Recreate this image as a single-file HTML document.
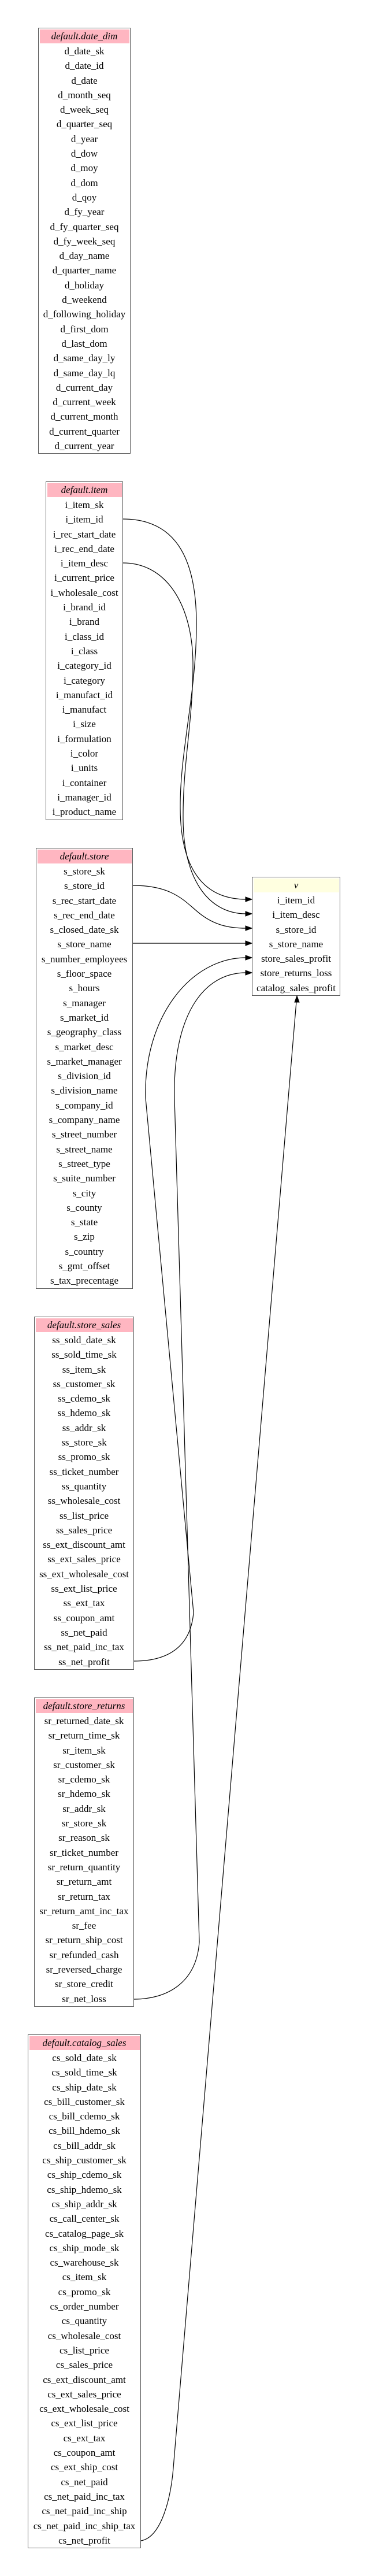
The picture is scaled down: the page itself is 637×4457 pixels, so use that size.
<!DOCTYPE html>
<html><head><meta charset="utf-8">
<style>
html,body{margin:0;padding:0;background:#fff;}
body{width:637px;height:4457px;position:relative;overflow:hidden;font-family:"Liberation Serif",serif;font-size:17px;color:#000;}
.t{position:absolute;box-sizing:border-box;border:1.5px solid #555;background:#fff;}
.h{margin:1.5px;height:24px;line-height:24px;background:#ffb6c1;text-align:center;font-style:italic;}
.h.v{background:#ffffe0;}
.r{height:25.3px;line-height:25.3px;text-align:center;white-space:nowrap;}
svg{position:absolute;left:0;top:0;}
</style></head><body>

<div class="t" style="left:66px;top:48px;width:160px;height:737px;">
<div class="h">default.date_dim</div>
<div class="r">d_date_sk</div><div class="r">d_date_id</div><div class="r">d_date</div><div class="r">d_month_seq</div><div class="r">d_week_seq</div><div class="r">d_quarter_seq</div><div class="r">d_year</div><div class="r">d_dow</div><div class="r">d_moy</div><div class="r">d_dom</div><div class="r">d_qoy</div><div class="r">d_fy_year</div><div class="r">d_fy_quarter_seq</div><div class="r">d_fy_week_seq</div><div class="r">d_day_name</div><div class="r">d_quarter_name</div><div class="r">d_holiday</div><div class="r">d_weekend</div><div class="r">d_following_holiday</div><div class="r">d_first_dom</div><div class="r">d_last_dom</div><div class="r">d_same_day_ly</div><div class="r">d_same_day_lq</div><div class="r">d_current_day</div><div class="r">d_current_week</div><div class="r">d_current_month</div><div class="r">d_current_quarter</div><div class="r">d_current_year</div>
</div>

<div class="t" style="left:79px;top:833px;width:134px;height:586px;">
<div class="h">default.item</div>
<div class="r">i_item_sk</div><div class="r">i_item_id</div><div class="r">i_rec_start_date</div><div class="r">i_rec_end_date</div><div class="r">i_item_desc</div><div class="r">i_current_price</div><div class="r">i_wholesale_cost</div><div class="r">i_brand_id</div><div class="r">i_brand</div><div class="r">i_class_id</div><div class="r">i_class</div><div class="r">i_category_id</div><div class="r">i_category</div><div class="r">i_manufact_id</div><div class="r">i_manufact</div><div class="r">i_size</div><div class="r">i_formulation</div><div class="r">i_color</div><div class="r">i_units</div><div class="r">i_container</div><div class="r">i_manager_id</div><div class="r">i_product_name</div>
</div>

<div class="t" style="left:62px;top:1467px;width:168px;height:763px;">
<div class="h">default.store</div>
<div class="r">s_store_sk</div><div class="r">s_store_id</div><div class="r">s_rec_start_date</div><div class="r">s_rec_end_date</div><div class="r">s_closed_date_sk</div><div class="r">s_store_name</div><div class="r">s_number_employees</div><div class="r">s_floor_space</div><div class="r">s_hours</div><div class="r">s_manager</div><div class="r">s_market_id</div><div class="r">s_geography_class</div><div class="r">s_market_desc</div><div class="r">s_market_manager</div><div class="r">s_division_id</div><div class="r">s_division_name</div><div class="r">s_company_id</div><div class="r">s_company_name</div><div class="r">s_street_number</div><div class="r">s_street_name</div><div class="r">s_street_type</div><div class="r">s_suite_number</div><div class="r">s_city</div><div class="r">s_county</div><div class="r">s_state</div><div class="r">s_zip</div><div class="r">s_country</div><div class="r">s_gmt_offset</div><div class="r">s_tax_precentage</div>
</div>

<div class="t" style="left:59px;top:2278px;width:173px;height:611px;">
<div class="h">default.store_sales</div>
<div class="r">ss_sold_date_sk</div><div class="r">ss_sold_time_sk</div><div class="r">ss_item_sk</div><div class="r">ss_customer_sk</div><div class="r">ss_cdemo_sk</div><div class="r">ss_hdemo_sk</div><div class="r">ss_addr_sk</div><div class="r">ss_store_sk</div><div class="r">ss_promo_sk</div><div class="r">ss_ticket_number</div><div class="r">ss_quantity</div><div class="r">ss_wholesale_cost</div><div class="r">ss_list_price</div><div class="r">ss_sales_price</div><div class="r">ss_ext_discount_amt</div><div class="r">ss_ext_sales_price</div><div class="r">ss_ext_wholesale_cost</div><div class="r">ss_ext_list_price</div><div class="r">ss_ext_tax</div><div class="r">ss_coupon_amt</div><div class="r">ss_net_paid</div><div class="r">ss_net_paid_inc_tax</div><div class="r">ss_net_profit</div>
</div>

<div class="t" style="left:59px;top:2937px;width:173px;height:535px;">
<div class="h">default.store_returns</div>
<div class="r">sr_returned_date_sk</div><div class="r">sr_return_time_sk</div><div class="r">sr_item_sk</div><div class="r">sr_customer_sk</div><div class="r">sr_cdemo_sk</div><div class="r">sr_hdemo_sk</div><div class="r">sr_addr_sk</div><div class="r">sr_store_sk</div><div class="r">sr_reason_sk</div><div class="r">sr_ticket_number</div><div class="r">sr_return_quantity</div><div class="r">sr_return_amt</div><div class="r">sr_return_tax</div><div class="r">sr_return_amt_inc_tax</div><div class="r">sr_fee</div><div class="r">sr_return_ship_cost</div><div class="r">sr_refunded_cash</div><div class="r">sr_reversed_charge</div><div class="r">sr_store_credit</div><div class="r">sr_net_loss</div>
</div>

<div class="t" style="left:48px;top:3520px;width:196px;height:889px;">
<div class="h">default.catalog_sales</div>
<div class="r">cs_sold_date_sk</div><div class="r">cs_sold_time_sk</div><div class="r">cs_ship_date_sk</div><div class="r">cs_bill_customer_sk</div><div class="r">cs_bill_cdemo_sk</div><div class="r">cs_bill_hdemo_sk</div><div class="r">cs_bill_addr_sk</div><div class="r">cs_ship_customer_sk</div><div class="r">cs_ship_cdemo_sk</div><div class="r">cs_ship_hdemo_sk</div><div class="r">cs_ship_addr_sk</div><div class="r">cs_call_center_sk</div><div class="r">cs_catalog_page_sk</div><div class="r">cs_ship_mode_sk</div><div class="r">cs_warehouse_sk</div><div class="r">cs_item_sk</div><div class="r">cs_promo_sk</div><div class="r">cs_order_number</div><div class="r">cs_quantity</div><div class="r">cs_wholesale_cost</div><div class="r">cs_list_price</div><div class="r">cs_sales_price</div><div class="r">cs_ext_discount_amt</div><div class="r">cs_ext_sales_price</div><div class="r">cs_ext_wholesale_cost</div><div class="r">cs_ext_list_price</div><div class="r">cs_ext_tax</div><div class="r">cs_coupon_amt</div><div class="r">cs_ext_ship_cost</div><div class="r">cs_net_paid</div><div class="r">cs_net_paid_inc_tax</div><div class="r">cs_net_paid_inc_ship</div><div class="r">cs_net_paid_inc_ship_tax</div><div class="r">cs_net_profit</div>
</div>

<div class="t" style="left:436px;top:1517px;width:153px;height:206px;">
<div class="h v">v</div>
<div class="r">i_item_id</div><div class="r">i_item_desc</div><div class="r">s_store_id</div><div class="r">s_store_name</div><div class="r">store_sales_profit</div><div class="r">store_returns_loss</div><div class="r">catalog_sales_profit</div>
</div>

<svg width="637" height="4457" viewBox="0 0 637 4457">
<g fill="none" stroke="#000" stroke-width="1.2">
<path d="M213,898 C300,898 340,960 340,1080 C340,1200 311,1300 312,1400 C313,1500 350,1556 426,1556"/>
<path d="M213,974 C290,974 334,1050 334,1150 C334,1250 316,1320 317,1420 C318,1520 360,1581 426,1581"/>
<path d="M230,1532 C300,1532 320,1560 345,1580 C370,1600 395,1606 426,1606"/>
<path d="M230,1632 L426,1632"/>
<path d="M232,2874 C290,2874 330,2850 335,2790 L252,1900 C248,1760 330,1657 426,1657"/>
<path d="M232,3459 C290,3459 340,3430 345,3360 L302,1900 C299,1760 350,1683 426,1683"/>
<path d="M244,4396 C280,4390 296,4320 300,4270 L513,1733"/>
</g>
<g fill="#000" stroke="#000" stroke-width="1">
<polygon points="436,1556 425,1552 425,1560"/>
<polygon points="436,1581 425,1577 425,1585"/>
<polygon points="436,1606 425,1602 425,1610"/>
<polygon points="436,1632 425,1628 425,1636"/>
<polygon points="436,1657 425,1653 425,1661"/>
<polygon points="436,1683 425,1679 425,1687"/>
<polygon points="514,1723 510,1734 518,1734"/>
</g>
</svg>
</body></html>
